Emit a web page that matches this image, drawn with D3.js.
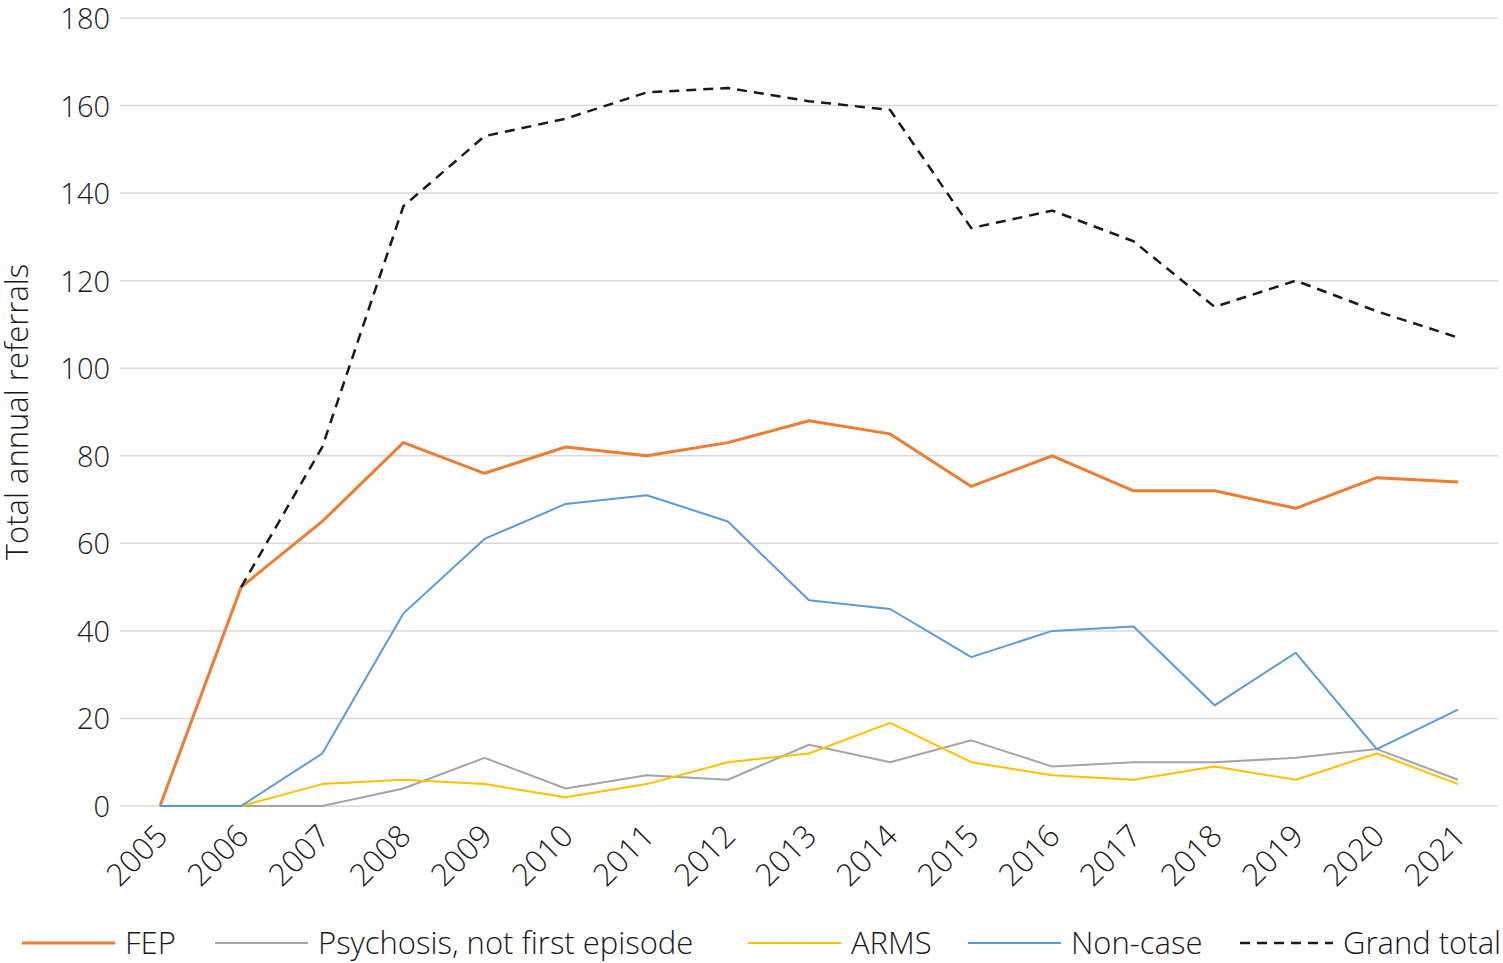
<!DOCTYPE html>
<html>
<head>
<meta charset="utf-8">
<script src="https://cdn.jsdelivr.net/npm/d3@7"></script>
<style>
  body { margin: 0; background: #fff; }
  text { font-family: "Open Sans", "Noto Sans", sans-serif; font-weight: 300; fill: #1a1a1a; }
</style>
</head>
<body>
<svg id="chart" width="1503" height="963"></svg>
<script>
// data
var years = [2005, 2006, 2007, 2008, 2009, 2010, 2011, 2012, 2013, 2014, 2015, 2016, 2017, 2018, 2019, 2020, 2021];
var fep = [0, 50, 65, 83, 76, 82, 80, 83, 88, 85, 73, 80, 72, 72, 68, 75, 74];
var psychosis = [0, 0, 0, 4, 11, 4, 7, 6, 14, 10, 15, 9, 10, 10, 11, 13, 6];
var arms = [0, 0, 5, 6, 5, 2, 5, 10, 12, 19, 10, 7, 6, 9, 6, 12, 5];
var noncase = [0, 0, 12, 44, 61, 69, 71, 65, 47, 45, 34, 40, 41, 23, 35, 13, 22];
var grandTotal = [null, 50, 82, 137, 153, 157, 163, 164, 161, 159, 132, 136, 129, 114, 120, 113, 107];
var yTicks = [0, 20, 40, 60, 80, 100, 120, 140, 160, 180];

var series = [
  { name: "FEP", values: fep, color: "#ED7D31", width: 3, dash: null },
  { name: "Psychosis, not first episode", values: psychosis, color: "#A5A5A5", width: 2, dash: null },
  { name: "ARMS", values: arms, color: "#FFC000", width: 2, dash: null },
  { name: "Non-case", values: noncase, color: "#5B9BD5", width: 2, dash: null },
  { name: "Grand total", values: grandTotal, color: "#1a1a1a", width: 2.5, dash: "10,7" }
];

var svg = d3.select("#chart");
var plotLeft = 120, plotRight = 1498, plotTop = 18, plotBottom = 806;

var x = d3.scalePoint().domain(years).range([160, 1458]);
var y = d3.scaleLinear().domain([0, 180]).range([plotBottom, plotTop]);

// gridlines
svg.append("g").selectAll("line")
  .data(yTicks)
  .join("line")
  .attr("x1", plotLeft).attr("x2", plotRight)
  .attr("y1", d => y(d)).attr("y2", d => y(d))
  .attr("stroke", "#d9d9d9").attr("stroke-width", 1.5);

// y axis labels
var yAxis = svg.append("g")
  .attr("transform", "translate(" + (plotLeft - 10) + ",0)")
  .call(d3.axisLeft(y).tickValues(yTicks).tickSize(0).tickPadding(0));
yAxis.select(".domain").remove();
yAxis.selectAll("text").attr("font-size", 29).attr("dy", "0.36em").attr("fill", "#1a1a1a")
  .attr("font-family", "\"Open Sans\", \"Noto Sans\", sans-serif");

// x axis labels, rotated
var xAxis = svg.append("g")
  .attr("transform", "translate(0," + plotBottom + ")")
  .call(d3.axisBottom(x).tickSize(0).tickPadding(0));
xAxis.select(".domain").remove();
xAxis.selectAll("text")
  .attr("font-size", 31)
  .attr("fill", "#1a1a1a")
  .attr("font-family", "\"Open Sans\", \"Noto Sans\", sans-serif")
  .attr("text-anchor", "end")
  .attr("dy", null)
  .attr("y", 0)
  .attr("transform", "translate(9,32) rotate(-45)");

// y axis title
svg.append("text")
  .attr("transform", "translate(28,412) rotate(-90)")
  .attr("text-anchor", "middle")
  .attr("font-size", 31)
  .text("Total annual referrals");

// lines
var line = d3.line()
  .defined(d => d.v != null)
  .x(d => x(d.year))
  .y(d => y(d.v));

series.forEach(function (s) {
  var pts = years.map((yr, i) => ({ year: yr, v: s.values[i] }));
  svg.append("path")
    .datum(pts)
    .attr("d", line)
    .attr("fill", "none")
    .attr("stroke", s.color)
    .attr("stroke-width", s.width)
    .attr("stroke-dasharray", s.dash)
    .attr("stroke-linejoin", "round");
});

// legend
var legendX = [22, 215, 748, 968, 1240];
var legend = svg.append("g").attr("transform", "translate(0,943)");
series.forEach(function (s, i) {
  legend.append("line")
    .attr("x1", legendX[i]).attr("x2", legendX[i] + 93)
    .attr("y1", 0).attr("y2", 0)
    .attr("stroke", s.color)
    .attr("stroke-width", s.width)
    .attr("stroke-dasharray", s.dash);
  legend.append("text")
    .attr("x", legendX[i] + 103)
    .attr("y", 0)
    .attr("dy", "0.35em")
    .attr("font-size", 31)
    .text(s.name);
});
</script>
</body>
</html>
